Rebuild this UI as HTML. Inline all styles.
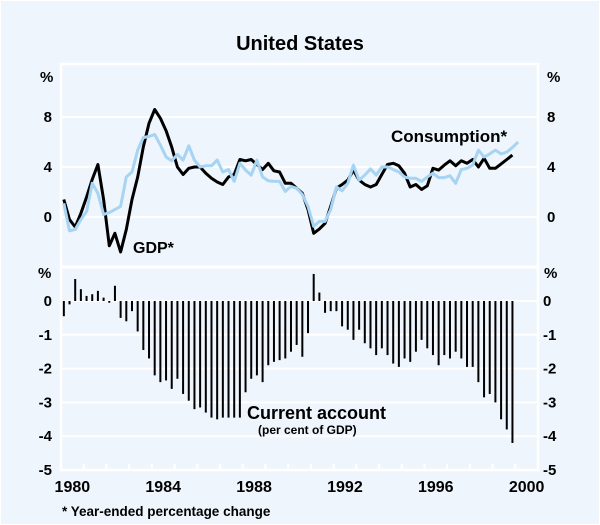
<!DOCTYPE html>
<html><head><meta charset="utf-8"><style>
body{margin:0;background:#eef5fc;}
svg{display:block;font-family:"Liberation Sans",Arial,sans-serif;}
</style></head><body>
<svg id="c" width="600" height="525" viewBox="0 0 600 525">
<rect x="0.5" y="0.5" width="599" height="524" fill="#eef5fc" stroke="#ffffff"/>
<text x="300" y="50" text-anchor="middle" font-size="20" font-weight="bold" fill="#000">United States</text>
<g id="grid"></g>
<g id="bars"></g>
<g id="lines"></g>
<g id="labels" font-size="15" font-weight="bold" fill="#000"></g>
<text x="391" y="142" font-size="17" font-weight="bold">Consumption*</text>
<text x="133" y="253" font-size="16" font-weight="bold">GDP*</text>
<text x="247" y="419" font-size="18" font-weight="bold">Current account</text>
<text x="258" y="434" font-size="12" font-weight="bold">(per cent of GDP)</text>
<text x="62" y="516" font-size="13.5" font-weight="bold">* Year-ended percentage change</text>
</svg>
<script>
const gdp=[1.4,-0.2,-0.8,0.3,1.6,3.0,4.2,1.4,-2.3,-1.3,-2.8,-1.0,1.4,3.2,5.6,7.5,8.6,7.9,6.9,5.6,4.0,3.4,3.9,4.0,4.0,3.5,3.1,2.8,2.6,3.2,3.4,4.6,4.5,4.6,4.2,3.8,4.3,3.7,3.6,2.7,2.7,2.3,
1.9,0.6,-1.3,-0.95,-0.5,0.85,2.3,2.6,2.95,3.75,2.95,2.6,2.4,2.6,3.4,4.2,4.3,4.1,3.5,2.4,2.6,2.2,2.5,3.9,3.75,4.15,4.5,4.1,4.5,4.3,4.6,4.0,4.7,3.9,3.9,4.25,4.6,4.95];
const consumption=[1.1,-1.1,-1.0,-0.2,0.45,2.7,1.9,0.2,0.35,0.6,0.85,3.2,3.6,5.35,6.35,6.45,6.6,5.75,4.8,4.5,5.0,4.55,5.7,4.55,4.0,4.1,4.1,4.55,3.6,3.8,2.85,4.3,3.75,3.35,4.55,3.2,2.9,2.85,2.85,2.05,2.45,2.3,
1.8,0.85,-0.75,-0.35,-0.35,0.6,2.4,2.1,2.7,4.15,2.95,3.35,3.85,3.35,4.0,4.0,3.8,3.6,3.2,3.1,3.1,2.85,3.2,3.5,3.15,3.15,3.3,2.7,3.8,3.9,4.15,5.35,4.8,5.05,5.35,5.05,5.2,5.55,6.0];
const currentAccount=[-0.45,-0.1,0.65,0.35,0.15,0.2,0.3,0.1,-0.05,0.45,-0.5,-0.6,-0.3,-0.9,-1.45,-1.7,-2.2,-2.4,-2.35,-2.6,-2.3,-2.75,-2.95,-3.2,-3.15,-3.3,-3.45,-3.5,-3.45,-3.45,-3.45,-3.45,-2.7,-2.3,-2.2,-2.4,-1.9,-1.8,-1.75,-1.7,-1.5,-1.3,-1.65,-0.95,0.8,0.25,-0.35,-0.3,-0.3,-0.75,-0.85,-1.15,-0.85,-1.25,-1.4,-1.6,-1.4,-1.6,-1.85,-1.95,-1.7,-1.8,-1.5,-1.15,-1.4,-1.6,-1.9,-1.6,-1.7,-1.5,-1.7,-1.95,-1.95,-2.4,-2.85,-2.75,-3.0,-3.5,-3.8,-4.2];
const topTicks=["8","4","0"];
const bottomTicks=["0","-1","-2","-3","-4","-5"];
const yearLabels=["1980","1984","1988","1992","1996","2000"];

const NS="http://www.w3.org/2000/svg";
const X0=61,X1=538,PY=(X1-X0)/21,PQ=PY/4;
const xq=i=>X0+(i+0.5)*PQ;
const yTop=v=>217-v*12.5;
const yBot=v=>301-v*33.8;
function mk(t,a,p){const e=document.createElementNS(NS,t);for(const k in a)e.setAttribute(k,a[k]);p.appendChild(e);return e;}
const grid=document.getElementById('grid'),bars=document.getElementById('bars'),lines=document.getElementById('lines'),labels=document.getElementById('labels');
let f=mk('rect',{x:X0,y:64,width:X1-X0,height:470-64,fill:'none',stroke:'#fff','stroke-width':2.5},grid);


let s=mk('line',{x1:X0,x2:X1,y1:yTop(-4),y2:yTop(-4),stroke:'#fff','stroke-width':3},grid);


topTicks.forEach(t=>{const v=+t,y=yTop(v);
 const g=mk('line',{x1:X0,x2:X1,y1:y,y2:y,stroke:'#fff','stroke-width':2},grid);
 
 
 const a=mk('text',{x:52,y:y+5,'text-anchor':'end'},labels);a.textContent=t;
 
 
 const b=mk('text',{x:547,y:y+5},labels);b.textContent=t;
 
 
});
bottomTicks.forEach(t=>{const v=+t,y=yBot(v);
 if(v>-5){const g=mk('line',{x1:X0,x2:X1,y1:y,y2:y,stroke:'#fff','stroke-width':2},grid);
 
 }
 const a=mk('text',{x:52,y:y+5,'text-anchor':'end'},labels);a.textContent=t;
 
 
 const b=mk('text',{x:543,y:y+5},labels);b.textContent=t;
 
 
});
[[40,82,'top-left-unit'],[547,82,'top-right-unit'],[38,278,'bottom-left-unit'],[544,278,'bottom-right-unit']].forEach(p=>{
 const e=mk('text',{x:p[0],y:p[1]},labels);e.textContent='%';
 
 
});
for(let k=1;k<21;k++){const x=X0+k*PY;
 const tk=mk('line',{x1:x,x2:x,y1:470,y2:464,stroke:'#fff','stroke-width':2},grid);
 
 }
yearLabels.forEach(t=>{const x=X0+(+t-1980+0.5)*PY;
 const e=mk('text',{x:x,y:492,'text-anchor':'middle','font-size':16},labels);e.textContent=t;
 
 
});
currentAccount.forEach((v,i)=>{const y0=yBot(0),y=yBot(v);
 const r=mk('rect',{x:xq(i)-1,y:Math.min(y0,y),width:2,height:Math.max(0.8,Math.abs(y-y0)),fill:'#000'},bars);
 
 
});
function line(data,col,w,name){
 const d=data.map((v,i)=>(i?'L':'M')+xq(i).toFixed(1)+','+yTop(v).toFixed(1)).join('');
 const p=mk('path',{d:d,fill:'none',stroke:col,'stroke-width':w,'stroke-linejoin':'round'},lines);
 
 
}
line(gdp,'#000',3,'gdp-line');
line(consumption,'#a6d4f2',3,'consumption-line');
</script>
</body></html>
